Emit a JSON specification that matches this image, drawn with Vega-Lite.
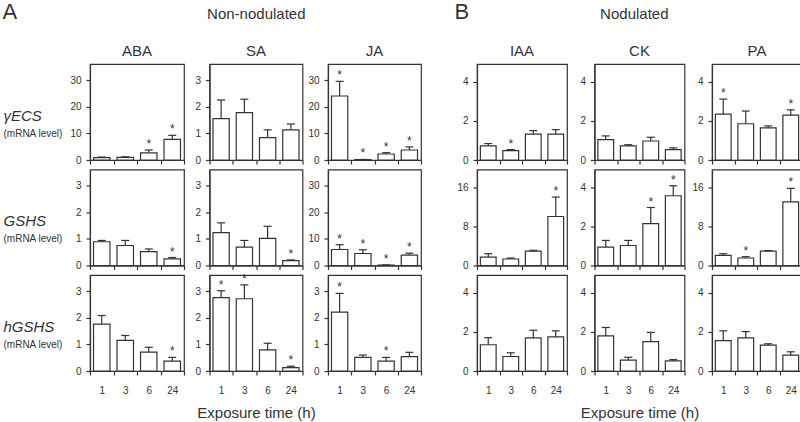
{
"$schema":"https://vega.github.io/schema/vega-lite/v6.json",
"padding":{"left":2,"top":1,"right":0,"bottom":0},
"datasets":{"d":[
{"g":"γECS","h":"ABA","t":1,"m":0.9,"e":1.1,"s":""},{"g":"γECS","h":"ABA","t":3,"m":1.0,"e":1.2,"s":""},{"g":"γECS","h":"ABA","t":6,"m":2.7,"e":3.75,"s":"*"},{"g":"γECS","h":"ABA","t":24,"m":7.75,"e":9.25,"s":"*"},
{"g":"γECS","h":"SA","t":1,"m":1.55,"e":2.25,"s":""},{"g":"γECS","h":"SA","t":3,"m":1.78,"e":2.28,"s":""},{"g":"γECS","h":"SA","t":6,"m":0.84,"e":1.13,"s":""},{"g":"γECS","h":"SA","t":24,"m":1.13,"e":1.35,"s":""},
{"g":"γECS","h":"JA","t":1,"m":24,"e":29.5,"s":"*"},{"g":"γECS","h":"JA","t":3,"m":0.15,"e":0.2,"s":"*"},{"g":"γECS","h":"JA","t":6,"m":2.25,"e":2.75,"s":"*"},{"g":"γECS","h":"JA","t":24,"m":3.75,"e":4.9,"s":"*"},
{"g":"γECS","h":"IAA","t":1,"m":0.72,"e":0.84,"s":""},{"g":"γECS","h":"IAA","t":3,"m":0.48,"e":0.53,"s":"*"},{"g":"γECS","h":"IAA","t":6,"m":1.32,"e":1.5,"s":""},{"g":"γECS","h":"IAA","t":24,"m":1.32,"e":1.55,"s":""},
{"g":"γECS","h":"CK","t":1,"m":1.04,"e":1.23,"s":""},{"g":"γECS","h":"CK","t":3,"m":0.72,"e":0.78,"s":""},{"g":"γECS","h":"CK","t":6,"m":0.97,"e":1.16,"s":""},{"g":"γECS","h":"CK","t":24,"m":0.53,"e":0.62,"s":""},
{"g":"γECS","h":"PA","t":1,"m":2.34,"e":3.11,"s":"*"},{"g":"γECS","h":"PA","t":3,"m":1.85,"e":2.5,"s":""},{"g":"γECS","h":"PA","t":6,"m":1.64,"e":1.74,"s":""},{"g":"γECS","h":"PA","t":24,"m":2.29,"e":2.56,"s":"*"},
{"g":"GSHS","h":"ABA","t":1,"m":0.89,"e":0.94,"s":""},{"g":"GSHS","h":"ABA","t":3,"m":0.75,"e":0.94,"s":""},{"g":"GSHS","h":"ABA","t":6,"m":0.52,"e":0.62,"s":""},{"g":"GSHS","h":"ABA","t":24,"m":0.25,"e":0.3,"s":"*"},
{"g":"GSHS","h":"SA","t":1,"m":1.23,"e":1.6,"s":""},{"g":"GSHS","h":"SA","t":3,"m":0.69,"e":0.94,"s":""},{"g":"GSHS","h":"SA","t":6,"m":1.02,"e":1.47,"s":""},{"g":"GSHS","h":"SA","t":24,"m":0.18,"e":0.21,"s":"*"},
{"g":"GSHS","h":"JA","t":1,"m":6.0,"e":7.8,"s":"*"},{"g":"GSHS","h":"JA","t":3,"m":4.5,"e":5.9,"s":"*"},{"g":"GSHS","h":"JA","t":6,"m":0.15,"e":0.2,"s":"*"},{"g":"GSHS","h":"JA","t":24,"m":3.9,"e":4.6,"s":"*"},
{"g":"GSHS","h":"IAA","t":1,"m":1.73,"e":2.4,"s":""},{"g":"GSHS","h":"IAA","t":3,"m":1.33,"e":1.53,"s":""},{"g":"GSHS","h":"IAA","t":6,"m":2.92,"e":3.1,"s":""},{"g":"GSHS","h":"IAA","t":24,"m":10.0,"e":13.97,"s":"*"},
{"g":"GSHS","h":"CK","t":1,"m":0.94,"e":1.28,"s":""},{"g":"GSHS","h":"CK","t":3,"m":1.02,"e":1.28,"s":""},{"g":"GSHS","h":"CK","t":6,"m":2.14,"e":2.96,"s":"*"},{"g":"GSHS","h":"CK","t":24,"m":3.56,"e":4.07,"s":"*"},
{"g":"GSHS","h":"PA","t":1,"m":2.06,"e":2.4,"s":""},{"g":"GSHS","h":"PA","t":3,"m":1.53,"e":1.8,"s":"*"},{"g":"GSHS","h":"PA","t":6,"m":2.92,"e":3.05,"s":""},{"g":"GSHS","h":"PA","t":24,"m":13.0,"e":15.75,"s":"*"},
{"g":"hGSHS","h":"ABA","t":1,"m":1.76,"e":2.08,"s":""},{"g":"hGSHS","h":"ABA","t":3,"m":1.15,"e":1.33,"s":""},{"g":"hGSHS","h":"ABA","t":6,"m":0.71,"e":0.89,"s":""},{"g":"hGSHS","h":"ABA","t":24,"m":0.37,"e":0.51,"s":"*"},
{"g":"hGSHS","h":"SA","t":1,"m":2.75,"e":3.01,"s":"*"},{"g":"hGSHS","h":"SA","t":3,"m":2.71,"e":3.23,"s":"*"},{"g":"hGSHS","h":"SA","t":6,"m":0.79,"e":1.04,"s":""},{"g":"hGSHS","h":"SA","t":24,"m":0.13,"e":0.18,"s":"*"},
{"g":"hGSHS","h":"JA","t":1,"m":2.21,"e":2.91,"s":"*"},{"g":"hGSHS","h":"JA","t":3,"m":0.51,"e":0.6,"s":""},{"g":"hGSHS","h":"JA","t":6,"m":0.37,"e":0.51,"s":"*"},{"g":"hGSHS","h":"JA","t":24,"m":0.54,"e":0.7,"s":""},
{"g":"hGSHS","h":"IAA","t":1,"m":1.34,"e":1.7,"s":""},{"g":"hGSHS","h":"IAA","t":3,"m":0.74,"e":0.93,"s":""},{"g":"hGSHS","h":"IAA","t":6,"m":1.69,"e":2.08,"s":""},{"g":"hGSHS","h":"IAA","t":24,"m":1.74,"e":2.05,"s":""},
{"g":"hGSHS","h":"CK","t":1,"m":1.79,"e":2.22,"s":""},{"g":"hGSHS","h":"CK","t":3,"m":0.55,"e":0.7,"s":""},{"g":"hGSHS","h":"CK","t":6,"m":1.5,"e":1.97,"s":""},{"g":"hGSHS","h":"CK","t":24,"m":0.52,"e":0.58,"s":""},
{"g":"hGSHS","h":"PA","t":1,"m":1.55,"e":2.05,"s":""},{"g":"hGSHS","h":"PA","t":3,"m":1.69,"e":2.01,"s":""},{"g":"hGSHS","h":"PA","t":6,"m":1.32,"e":1.39,"s":""},{"g":"hGSHS","h":"PA","t":24,"m":0.81,"e":0.98,"s":""}
]},
"data":{"name":"d"},
"spacing":31,
"hconcat":[
{"title":{"text":"A","anchor":"start","fontSize":22,"offset":0,"dy":17,"dx":0},
 "vconcat":[{"title":{"text":"Non-nodulated","anchor":"middle","fontSize":15,"offset":21,"dx":44},
  "columns":3,"bounds":"flush","spacing":{"row":9.5,"column":25.5},
  "concat":[
   {"width":94,"height":96,"title":{"text":"ABA","frame":"group","offset":5},"transform":[{"filter":{"and":[{"field":"g","equal":"γECS"},{"field":"h","equal":"ABA"}]}}],"resolve":{"axis":{"y":"independent"}},
    "encoding":{"x":{"field":"t","type":"ordinal","sort":[1,3,6,24],"scale":{"paddingInner":0,"paddingOuter":0},"axis":{"labels":false,"title":null,"tickBand":"extent"}}},
    "layer":[
     {"mark":{"type":"bar","fill":"white","stroke":"#333","strokeWidth":1.2,"width":{"band":0.7}},"encoding":{"y":{"field":"m","type":"quantitative","scale":{"domain":[0,36],"nice":false},"axis":{"values":[0,10,20,30],"minExtent":21,"title":"(mRNA level)","titleFontSize":10,"titleAngle":0,"titleAlign":"left","titleBaseline":"middle","titleX":-87,"titleY":69}}}},
     {"mark":{"type":"rule","color":"#333","strokeWidth":1.2},"encoding":{"y":{"field":"m","type":"quantitative","axis":null},"y2":{"field":"e"}}},
     {"mark":{"type":"tick","color":"#333","thickness":1.2,"size":8,"opacity":1},"encoding":{"y":{"field":"e","type":"quantitative","axis":null}}},
     {"mark":{"type":"text","fontSize":12,"baseline":"alphabetic","dy":-2,"color":"#333"},"encoding":{"y":{"field":"e","type":"quantitative","axis":{"orient":"left","title":"γECS","titleFontSize":15,"titleFontStyle":"italic","titleAngle":0,"titleAlign":"left","titleBaseline":"middle","titleX":-87,"titleY":51,"labels":false,"ticks":false,"domain":false}},"text":{"field":"s"}}}
    ]},
   {"width":93,"height":96,"title":{"text":"SA","frame":"group","offset":5},"transform":[{"filter":{"and":[{"field":"g","equal":"γECS"},{"field":"h","equal":"SA"}]}}],"resolve":{"axis":{"y":"independent"}},
    "encoding":{"x":{"field":"t","type":"ordinal","sort":[1,3,6,24],"scale":{"paddingInner":0,"paddingOuter":0},"axis":{"labels":false,"title":null,"tickBand":"extent"}}},
    "layer":[
     {"mark":{"type":"bar","fill":"white","stroke":"#333","strokeWidth":1.2,"width":{"band":0.7}},"encoding":{"y":{"field":"m","type":"quantitative","scale":{"domain":[0,3.6],"nice":false},"axis":{"values":[0,1,2,3],"minExtent":21,"title":null}}}},
     {"mark":{"type":"rule","color":"#333","strokeWidth":1.2},"encoding":{"y":{"field":"m","type":"quantitative","axis":null},"y2":{"field":"e"}}},
     {"mark":{"type":"tick","color":"#333","thickness":1.2,"size":8,"opacity":1},"encoding":{"y":{"field":"e","type":"quantitative","axis":null}}},
     {"mark":{"type":"text","fontSize":12,"baseline":"alphabetic","dy":-2,"color":"#333"},"encoding":{"y":{"field":"e","type":"quantitative","axis":null},"text":{"field":"s"}}}
    ]},
   {"width":93,"height":96,"title":{"text":"JA","frame":"group","offset":5},"transform":[{"filter":{"and":[{"field":"g","equal":"γECS"},{"field":"h","equal":"JA"}]}}],"resolve":{"axis":{"y":"independent"}},
    "encoding":{"x":{"field":"t","type":"ordinal","sort":[1,3,6,24],"scale":{"paddingInner":0,"paddingOuter":0},"axis":{"labels":false,"title":null,"tickBand":"extent"}}},
    "layer":[
     {"mark":{"type":"bar","fill":"white","stroke":"#333","strokeWidth":1.2,"width":{"band":0.7}},"encoding":{"y":{"field":"m","type":"quantitative","scale":{"domain":[0,36],"nice":false},"axis":{"values":[0,10,20,30],"minExtent":21,"title":null}}}},
     {"mark":{"type":"rule","color":"#333","strokeWidth":1.2},"encoding":{"y":{"field":"m","type":"quantitative","axis":null},"y2":{"field":"e"}}},
     {"mark":{"type":"tick","color":"#333","thickness":1.2,"size":8,"opacity":1},"encoding":{"y":{"field":"e","type":"quantitative","axis":null}}},
     {"mark":{"type":"text","fontSize":12,"baseline":"alphabetic","dy":-2,"color":"#333"},"encoding":{"y":{"field":"e","type":"quantitative","axis":null},"text":{"field":"s"}}}
    ]},
   {"width":94,"height":96,"transform":[{"filter":{"and":[{"field":"g","equal":"GSHS"},{"field":"h","equal":"ABA"}]}}],"resolve":{"axis":{"y":"independent"}},
    "encoding":{"x":{"field":"t","type":"ordinal","sort":[1,3,6,24],"scale":{"paddingInner":0,"paddingOuter":0},"axis":{"labels":false,"title":null,"tickBand":"extent"}}},
    "layer":[
     {"mark":{"type":"bar","fill":"white","stroke":"#333","strokeWidth":1.2,"width":{"band":0.7}},"encoding":{"y":{"field":"m","type":"quantitative","scale":{"domain":[0,3.6],"nice":false},"axis":{"values":[0,1,2,3],"minExtent":21,"title":"(mRNA level)","titleFontSize":10,"titleAngle":0,"titleAlign":"left","titleBaseline":"middle","titleX":-87,"titleY":69}}}},
     {"mark":{"type":"rule","color":"#333","strokeWidth":1.2},"encoding":{"y":{"field":"m","type":"quantitative","axis":null},"y2":{"field":"e"}}},
     {"mark":{"type":"tick","color":"#333","thickness":1.2,"size":8,"opacity":1},"encoding":{"y":{"field":"e","type":"quantitative","axis":null}}},
     {"mark":{"type":"text","fontSize":12,"baseline":"alphabetic","dy":-2,"color":"#333"},"encoding":{"y":{"field":"e","type":"quantitative","axis":{"orient":"left","title":"GSHS","titleFontSize":15,"titleFontStyle":"italic","titleAngle":0,"titleAlign":"left","titleBaseline":"middle","titleX":-87,"titleY":51,"labels":false,"ticks":false,"domain":false}},"text":{"field":"s"}}}
    ]},
   {"width":93,"height":96,"transform":[{"filter":{"and":[{"field":"g","equal":"GSHS"},{"field":"h","equal":"SA"}]}}],"resolve":{"axis":{"y":"independent"}},
    "encoding":{"x":{"field":"t","type":"ordinal","sort":[1,3,6,24],"scale":{"paddingInner":0,"paddingOuter":0},"axis":{"labels":false,"title":null,"tickBand":"extent"}}},
    "layer":[
     {"mark":{"type":"bar","fill":"white","stroke":"#333","strokeWidth":1.2,"width":{"band":0.7}},"encoding":{"y":{"field":"m","type":"quantitative","scale":{"domain":[0,3.6],"nice":false},"axis":{"values":[0,1,2,3],"minExtent":21,"title":null}}}},
     {"mark":{"type":"rule","color":"#333","strokeWidth":1.2},"encoding":{"y":{"field":"m","type":"quantitative","axis":null},"y2":{"field":"e"}}},
     {"mark":{"type":"tick","color":"#333","thickness":1.2,"size":8,"opacity":1},"encoding":{"y":{"field":"e","type":"quantitative","axis":null}}},
     {"mark":{"type":"text","fontSize":12,"baseline":"alphabetic","dy":-2,"color":"#333"},"encoding":{"y":{"field":"e","type":"quantitative","axis":null},"text":{"field":"s"}}}
    ]},
   {"width":93,"height":96,"transform":[{"filter":{"and":[{"field":"g","equal":"GSHS"},{"field":"h","equal":"JA"}]}}],"resolve":{"axis":{"y":"independent"}},
    "encoding":{"x":{"field":"t","type":"ordinal","sort":[1,3,6,24],"scale":{"paddingInner":0,"paddingOuter":0},"axis":{"labels":false,"title":null,"tickBand":"extent"}}},
    "layer":[
     {"mark":{"type":"bar","fill":"white","stroke":"#333","strokeWidth":1.2,"width":{"band":0.7}},"encoding":{"y":{"field":"m","type":"quantitative","scale":{"domain":[0,36],"nice":false},"axis":{"values":[0,10,20,30],"minExtent":21,"title":null}}}},
     {"mark":{"type":"rule","color":"#333","strokeWidth":1.2},"encoding":{"y":{"field":"m","type":"quantitative","axis":null},"y2":{"field":"e"}}},
     {"mark":{"type":"tick","color":"#333","thickness":1.2,"size":8,"opacity":1},"encoding":{"y":{"field":"e","type":"quantitative","axis":null}}},
     {"mark":{"type":"text","fontSize":12,"baseline":"alphabetic","dy":-2,"color":"#333"},"encoding":{"y":{"field":"e","type":"quantitative","axis":null},"text":{"field":"s"}}}
    ]},
   {"width":94,"height":96,"transform":[{"filter":{"and":[{"field":"g","equal":"hGSHS"},{"field":"h","equal":"ABA"}]}}],"resolve":{"axis":{"y":"independent"}},
    "encoding":{"x":{"field":"t","type":"ordinal","sort":[1,3,6,24],"scale":{"paddingInner":0,"paddingOuter":0},"axis":{"labelAngle":0,"labelPadding":10,"title":null,"tickBand":"extent"}}},
    "layer":[
     {"mark":{"type":"bar","fill":"white","stroke":"#333","strokeWidth":1.2,"width":{"band":0.7}},"encoding":{"y":{"field":"m","type":"quantitative","scale":{"domain":[0,3.6],"nice":false},"axis":{"values":[0,1,2,3],"minExtent":21,"title":"(mRNA level)","titleFontSize":10,"titleAngle":0,"titleAlign":"left","titleBaseline":"middle","titleX":-87,"titleY":69}}}},
     {"mark":{"type":"rule","color":"#333","strokeWidth":1.2},"encoding":{"y":{"field":"m","type":"quantitative","axis":null},"y2":{"field":"e"}}},
     {"mark":{"type":"tick","color":"#333","thickness":1.2,"size":8,"opacity":1},"encoding":{"y":{"field":"e","type":"quantitative","axis":null}}},
     {"mark":{"type":"text","fontSize":12,"baseline":"alphabetic","dy":-2,"color":"#333"},"encoding":{"y":{"field":"e","type":"quantitative","axis":{"orient":"left","title":"hGSHS","titleFontSize":15,"titleFontStyle":"italic","titleAngle":0,"titleAlign":"left","titleBaseline":"middle","titleX":-87,"titleY":51,"labels":false,"ticks":false,"domain":false}},"text":{"field":"s"}}}
    ]},
   {"width":93,"height":96,"transform":[{"filter":{"and":[{"field":"g","equal":"hGSHS"},{"field":"h","equal":"SA"}]}}],"resolve":{"axis":{"y":"independent"}},
    "encoding":{"x":{"field":"t","type":"ordinal","sort":[1,3,6,24],"scale":{"paddingInner":0,"paddingOuter":0},"axis":{"labelAngle":0,"labelPadding":10,"title":"Exposure time (h)","titleFontSize":15,"titlePadding":10,"tickBand":"extent"}}},
    "layer":[
     {"mark":{"type":"bar","fill":"white","stroke":"#333","strokeWidth":1.2,"width":{"band":0.7}},"encoding":{"y":{"field":"m","type":"quantitative","scale":{"domain":[0,3.6],"nice":false},"axis":{"values":[0,1,2,3],"minExtent":21,"title":null}}}},
     {"mark":{"type":"rule","color":"#333","strokeWidth":1.2},"encoding":{"y":{"field":"m","type":"quantitative","axis":null},"y2":{"field":"e"}}},
     {"mark":{"type":"tick","color":"#333","thickness":1.2,"size":8,"opacity":1},"encoding":{"y":{"field":"e","type":"quantitative","axis":null}}},
     {"mark":{"type":"text","fontSize":12,"baseline":"alphabetic","dy":-2,"color":"#333"},"encoding":{"y":{"field":"e","type":"quantitative","axis":null},"text":{"field":"s"}}}
    ]},
   {"width":93,"height":96,"transform":[{"filter":{"and":[{"field":"g","equal":"hGSHS"},{"field":"h","equal":"JA"}]}}],"resolve":{"axis":{"y":"independent"}},
    "encoding":{"x":{"field":"t","type":"ordinal","sort":[1,3,6,24],"scale":{"paddingInner":0,"paddingOuter":0},"axis":{"labelAngle":0,"labelPadding":10,"title":null,"tickBand":"extent"}}},
    "layer":[
     {"mark":{"type":"bar","fill":"white","stroke":"#333","strokeWidth":1.2,"width":{"band":0.7}},"encoding":{"y":{"field":"m","type":"quantitative","scale":{"domain":[0,3.6],"nice":false},"axis":{"values":[0,1,2,3],"minExtent":21,"title":null}}}},
     {"mark":{"type":"rule","color":"#333","strokeWidth":1.2},"encoding":{"y":{"field":"m","type":"quantitative","axis":null},"y2":{"field":"e"}}},
     {"mark":{"type":"tick","color":"#333","thickness":1.2,"size":8,"opacity":1},"encoding":{"y":{"field":"e","type":"quantitative","axis":null}}},
     {"mark":{"type":"text","fontSize":12,"baseline":"alphabetic","dy":-2,"color":"#333"},"encoding":{"y":{"field":"e","type":"quantitative","axis":null},"text":{"field":"s"}}}
    ]}
  ]}]},
{"title":{"text":"B","anchor":"start","fontSize":22,"offset":0,"dy":17,"dx":-1},
 "vconcat":[{"title":{"text":"Nodulated","anchor":"middle","fontSize":15,"offset":21,"dx":5},
  "columns":3,"bounds":"flush","spacing":{"row":9.5,"column":27.5},
  "concat":[
   {"width":90,"height":96,"title":{"text":"IAA","frame":"group","offset":5},"transform":[{"filter":{"and":[{"field":"g","equal":"γECS"},{"field":"h","equal":"IAA"}]}}],"resolve":{"axis":{"y":"independent"}},
    "encoding":{"x":{"field":"t","type":"ordinal","sort":[1,3,6,24],"scale":{"paddingInner":0,"paddingOuter":0},"axis":{"labels":false,"title":null,"tickBand":"extent"}}},
    "layer":[
     {"mark":{"type":"bar","fill":"white","stroke":"#333","strokeWidth":1.2,"width":{"band":0.7}},"encoding":{"y":{"field":"m","type":"quantitative","scale":{"domain":[0,4.9],"nice":false},"axis":{"values":[0,2,4],"minExtent":21,"title":null}}}},
     {"mark":{"type":"rule","color":"#333","strokeWidth":1.2},"encoding":{"y":{"field":"m","type":"quantitative","axis":null},"y2":{"field":"e"}}},
     {"mark":{"type":"tick","color":"#333","thickness":1.2,"size":8,"opacity":1},"encoding":{"y":{"field":"e","type":"quantitative","axis":null}}},
     {"mark":{"type":"text","fontSize":12,"baseline":"alphabetic","dy":-2,"color":"#333"},"encoding":{"y":{"field":"e","type":"quantitative","axis":null},"text":{"field":"s"}}}
    ]},
   {"width":90,"height":96,"title":{"text":"CK","frame":"group","offset":5},"transform":[{"filter":{"and":[{"field":"g","equal":"γECS"},{"field":"h","equal":"CK"}]}}],"resolve":{"axis":{"y":"independent"}},
    "encoding":{"x":{"field":"t","type":"ordinal","sort":[1,3,6,24],"scale":{"paddingInner":0,"paddingOuter":0},"axis":{"labels":false,"title":null,"tickBand":"extent"}}},
    "layer":[
     {"mark":{"type":"bar","fill":"white","stroke":"#333","strokeWidth":1.2,"width":{"band":0.7}},"encoding":{"y":{"field":"m","type":"quantitative","scale":{"domain":[0,4.9],"nice":false},"axis":{"values":[0,2,4],"minExtent":21,"title":null}}}},
     {"mark":{"type":"rule","color":"#333","strokeWidth":1.2},"encoding":{"y":{"field":"m","type":"quantitative","axis":null},"y2":{"field":"e"}}},
     {"mark":{"type":"tick","color":"#333","thickness":1.2,"size":8,"opacity":1},"encoding":{"y":{"field":"e","type":"quantitative","axis":null}}},
     {"mark":{"type":"text","fontSize":12,"baseline":"alphabetic","dy":-2,"color":"#333"},"encoding":{"y":{"field":"e","type":"quantitative","axis":null},"text":{"field":"s"}}}
    ]},
   {"width":90,"height":96,"title":{"text":"PA","frame":"group","offset":5},"transform":[{"filter":{"and":[{"field":"g","equal":"γECS"},{"field":"h","equal":"PA"}]}}],"resolve":{"axis":{"y":"independent"}},
    "encoding":{"x":{"field":"t","type":"ordinal","sort":[1,3,6,24],"scale":{"paddingInner":0,"paddingOuter":0},"axis":{"labels":false,"title":null,"tickBand":"extent"}}},
    "layer":[
     {"mark":{"type":"bar","fill":"white","stroke":"#333","strokeWidth":1.2,"width":{"band":0.7}},"encoding":{"y":{"field":"m","type":"quantitative","scale":{"domain":[0,4.9],"nice":false},"axis":{"values":[0,2,4],"minExtent":21,"title":null}}}},
     {"mark":{"type":"rule","color":"#333","strokeWidth":1.2},"encoding":{"y":{"field":"m","type":"quantitative","axis":null},"y2":{"field":"e"}}},
     {"mark":{"type":"tick","color":"#333","thickness":1.2,"size":8,"opacity":1},"encoding":{"y":{"field":"e","type":"quantitative","axis":null}}},
     {"mark":{"type":"text","fontSize":12,"baseline":"alphabetic","dy":-2,"color":"#333"},"encoding":{"y":{"field":"e","type":"quantitative","axis":null},"text":{"field":"s"}}}
    ]},
   {"width":90,"height":96,"transform":[{"filter":{"and":[{"field":"g","equal":"GSHS"},{"field":"h","equal":"IAA"}]}}],"resolve":{"axis":{"y":"independent"}},
    "encoding":{"x":{"field":"t","type":"ordinal","sort":[1,3,6,24],"scale":{"paddingInner":0,"paddingOuter":0},"axis":{"labels":false,"title":null,"tickBand":"extent"}}},
    "layer":[
     {"mark":{"type":"bar","fill":"white","stroke":"#333","strokeWidth":1.2,"width":{"band":0.7}},"encoding":{"y":{"field":"m","type":"quantitative","scale":{"domain":[0,19.6],"nice":false},"axis":{"values":[0,8,16],"minExtent":21,"title":null}}}},
     {"mark":{"type":"rule","color":"#333","strokeWidth":1.2},"encoding":{"y":{"field":"m","type":"quantitative","axis":null},"y2":{"field":"e"}}},
     {"mark":{"type":"tick","color":"#333","thickness":1.2,"size":8,"opacity":1},"encoding":{"y":{"field":"e","type":"quantitative","axis":null}}},
     {"mark":{"type":"text","fontSize":12,"baseline":"alphabetic","dy":-2,"color":"#333"},"encoding":{"y":{"field":"e","type":"quantitative","axis":null},"text":{"field":"s"}}}
    ]},
   {"width":90,"height":96,"transform":[{"filter":{"and":[{"field":"g","equal":"GSHS"},{"field":"h","equal":"CK"}]}}],"resolve":{"axis":{"y":"independent"}},
    "encoding":{"x":{"field":"t","type":"ordinal","sort":[1,3,6,24],"scale":{"paddingInner":0,"paddingOuter":0},"axis":{"labels":false,"title":null,"tickBand":"extent"}}},
    "layer":[
     {"mark":{"type":"bar","fill":"white","stroke":"#333","strokeWidth":1.2,"width":{"band":0.7}},"encoding":{"y":{"field":"m","type":"quantitative","scale":{"domain":[0,4.9],"nice":false},"axis":{"values":[0,2,4],"minExtent":21,"title":null}}}},
     {"mark":{"type":"rule","color":"#333","strokeWidth":1.2},"encoding":{"y":{"field":"m","type":"quantitative","axis":null},"y2":{"field":"e"}}},
     {"mark":{"type":"tick","color":"#333","thickness":1.2,"size":8,"opacity":1},"encoding":{"y":{"field":"e","type":"quantitative","axis":null}}},
     {"mark":{"type":"text","fontSize":12,"baseline":"alphabetic","dy":-2,"color":"#333"},"encoding":{"y":{"field":"e","type":"quantitative","axis":null},"text":{"field":"s"}}}
    ]},
   {"width":90,"height":96,"transform":[{"filter":{"and":[{"field":"g","equal":"GSHS"},{"field":"h","equal":"PA"}]}}],"resolve":{"axis":{"y":"independent"}},
    "encoding":{"x":{"field":"t","type":"ordinal","sort":[1,3,6,24],"scale":{"paddingInner":0,"paddingOuter":0},"axis":{"labels":false,"title":null,"tickBand":"extent"}}},
    "layer":[
     {"mark":{"type":"bar","fill":"white","stroke":"#333","strokeWidth":1.2,"width":{"band":0.7}},"encoding":{"y":{"field":"m","type":"quantitative","scale":{"domain":[0,19.6],"nice":false},"axis":{"values":[0,8,16],"minExtent":21,"title":null}}}},
     {"mark":{"type":"rule","color":"#333","strokeWidth":1.2},"encoding":{"y":{"field":"m","type":"quantitative","axis":null},"y2":{"field":"e"}}},
     {"mark":{"type":"tick","color":"#333","thickness":1.2,"size":8,"opacity":1},"encoding":{"y":{"field":"e","type":"quantitative","axis":null}}},
     {"mark":{"type":"text","fontSize":12,"baseline":"alphabetic","dy":-2,"color":"#333"},"encoding":{"y":{"field":"e","type":"quantitative","axis":null},"text":{"field":"s"}}}
    ]},
   {"width":90,"height":96,"transform":[{"filter":{"and":[{"field":"g","equal":"hGSHS"},{"field":"h","equal":"IAA"}]}}],"resolve":{"axis":{"y":"independent"}},
    "encoding":{"x":{"field":"t","type":"ordinal","sort":[1,3,6,24],"scale":{"paddingInner":0,"paddingOuter":0},"axis":{"labelAngle":0,"labelPadding":10,"title":null,"tickBand":"extent"}}},
    "layer":[
     {"mark":{"type":"bar","fill":"white","stroke":"#333","strokeWidth":1.2,"width":{"band":0.7}},"encoding":{"y":{"field":"m","type":"quantitative","scale":{"domain":[0,4.9],"nice":false},"axis":{"values":[0,2,4],"minExtent":21,"title":null}}}},
     {"mark":{"type":"rule","color":"#333","strokeWidth":1.2},"encoding":{"y":{"field":"m","type":"quantitative","axis":null},"y2":{"field":"e"}}},
     {"mark":{"type":"tick","color":"#333","thickness":1.2,"size":8,"opacity":1},"encoding":{"y":{"field":"e","type":"quantitative","axis":null}}},
     {"mark":{"type":"text","fontSize":12,"baseline":"alphabetic","dy":-2,"color":"#333"},"encoding":{"y":{"field":"e","type":"quantitative","axis":null},"text":{"field":"s"}}}
    ]},
   {"width":90,"height":96,"transform":[{"filter":{"and":[{"field":"g","equal":"hGSHS"},{"field":"h","equal":"CK"}]}}],"resolve":{"axis":{"y":"independent"}},
    "encoding":{"x":{"field":"t","type":"ordinal","sort":[1,3,6,24],"scale":{"paddingInner":0,"paddingOuter":0},"axis":{"labelAngle":0,"labelPadding":10,"title":"Exposure time (h)","titleFontSize":15,"titlePadding":10,"tickBand":"extent"}}},
    "layer":[
     {"mark":{"type":"bar","fill":"white","stroke":"#333","strokeWidth":1.2,"width":{"band":0.7}},"encoding":{"y":{"field":"m","type":"quantitative","scale":{"domain":[0,4.9],"nice":false},"axis":{"values":[0,2,4],"minExtent":21,"title":null}}}},
     {"mark":{"type":"rule","color":"#333","strokeWidth":1.2},"encoding":{"y":{"field":"m","type":"quantitative","axis":null},"y2":{"field":"e"}}},
     {"mark":{"type":"tick","color":"#333","thickness":1.2,"size":8,"opacity":1},"encoding":{"y":{"field":"e","type":"quantitative","axis":null}}},
     {"mark":{"type":"text","fontSize":12,"baseline":"alphabetic","dy":-2,"color":"#333"},"encoding":{"y":{"field":"e","type":"quantitative","axis":null},"text":{"field":"s"}}}
    ]},
   {"width":90,"height":96,"transform":[{"filter":{"and":[{"field":"g","equal":"hGSHS"},{"field":"h","equal":"PA"}]}}],"resolve":{"axis":{"y":"independent"}},
    "encoding":{"x":{"field":"t","type":"ordinal","sort":[1,3,6,24],"scale":{"paddingInner":0,"paddingOuter":0},"axis":{"labelAngle":0,"labelPadding":10,"title":null,"tickBand":"extent"}}},
    "layer":[
     {"mark":{"type":"bar","fill":"white","stroke":"#333","strokeWidth":1.2,"width":{"band":0.7}},"encoding":{"y":{"field":"m","type":"quantitative","scale":{"domain":[0,4.9],"nice":false},"axis":{"values":[0,2,4],"minExtent":21,"title":null}}}},
     {"mark":{"type":"rule","color":"#333","strokeWidth":1.2},"encoding":{"y":{"field":"m","type":"quantitative","axis":null},"y2":{"field":"e"}}},
     {"mark":{"type":"tick","color":"#333","thickness":1.2,"size":8,"opacity":1},"encoding":{"y":{"field":"e","type":"quantitative","axis":null}}},
     {"mark":{"type":"text","fontSize":12,"baseline":"alphabetic","dy":-2,"color":"#333"},"encoding":{"y":{"field":"e","type":"quantitative","axis":null},"text":{"field":"s"}}}
    ]}
  ]}]}
],
"config":{
 "font":"Liberation Sans",
 "view":{"stroke":"#333","strokeWidth":1.2},
 "axis":{"labelFont":"Liberation Sans","titleFont":"Liberation Sans","labelFontSize":10,"labelColor":"#333","titleColor":"#333","titleFontWeight":"normal","domainColor":"#333","domainWidth":1.2,"tickColor":"#333","tickWidth":1.2,"tickSize":4,"labelPadding":5,"grid":false},
 "title":{"font":"Liberation Sans","fontWeight":"normal","color":"#333","fontSize":15,"offset":7}
}
}
